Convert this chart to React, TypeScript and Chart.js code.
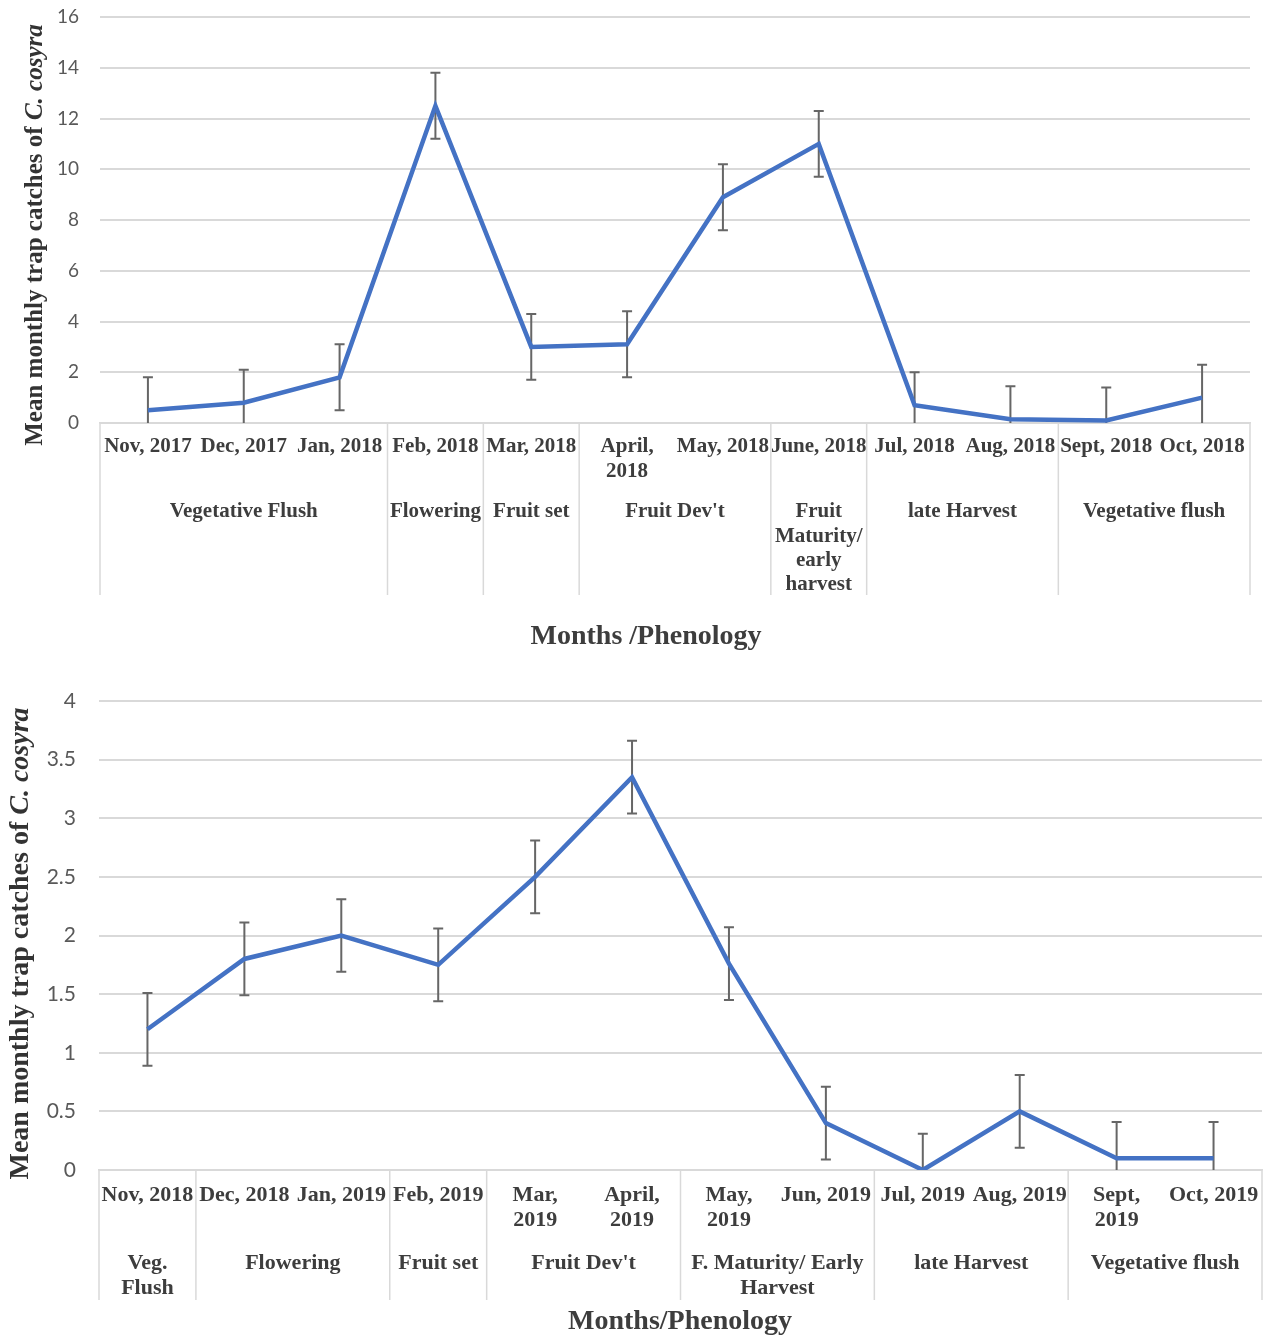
import React, { useEffect, useRef } from "react";
import { Chart, registerables } from "chart.js";

Chart.register(...registerables);

// ---------- Data: 2017-2018 season ----------
const months1 = [
  "Nov, 2017", "Dec, 2017", "Jan, 2018", "Feb, 2018", "Mar, 2018", "April,\n2018",
  "May, 2018", "June, 2018", "Jul, 2018", "Aug, 2018", "Sept, 2018", "Oct, 2018",
];
const catches1 = [0.5, 0.8, 1.8, 12.5, 3.0, 3.1, 8.9, 11.0, 0.7, 0.15, 0.1, 1.0];
const errors1 = [1.3, 1.3, 1.3, 1.3, 1.3, 1.3, 1.3, 1.3, 1.3, 1.3, 1.3, 1.3];
const phases1 = [
  "Vegetative Flush", "Flowering", "Fruit set", "Fruit Dev't",
  "Fruit\nMaturity/\nearly\nharvest", "late Harvest", "Vegetative flush",
];
const phaseSpans1 = [3, 1, 1, 2, 1, 2, 2];

// ---------- Data: 2018-2019 season ----------
const months2 = [
  "Nov, 2018", "Dec, 2018", "Jan, 2019", "Feb, 2019", "Mar,\n2019", "April,\n2019",
  "May,\n2019", "Jun, 2019", "Jul, 2019", "Aug, 2019", "Sept,\n2019", "Oct, 2019",
];
const catches2 = [1.2, 1.8, 2.0, 1.75, 2.5, 3.35, 1.76, 0.4, 0.0, 0.5, 0.1, 0.1];
const errors2 = [0.31, 0.31, 0.31, 0.31, 0.31, 0.31, 0.31, 0.31, 0.31, 0.31, 0.31, 0.31];
const phases2 = [
  "Veg.\nFlush", "Flowering", "Fruit set", "Fruit Dev't",
  "F. Maturity/ Early\nHarvest", "late Harvest", "Vegetative flush",
];
const phaseSpans2 = [1, 2, 1, 2, 2, 2, 2];

const yTitleMain = "Mean monthly trap catches of ";
const yTitleItalic = "C. cosyra";
const xTitle1 = "Months /Phenology";
const xTitle2 = "Months/Phenology";

const SERIF = "'Liberation Serif', 'DejaVu Serif', serif";
const SANS = "Lato, 'Open Sans', sans-serif";
const GRID = "#d9d9d9";
const TEXT = "#3d3d3d";

type Spec = {
  top: number;
  height: number;
  labels: string[];
  values: number[];
  errors: number[];
  phases: string[];
  spans: number[];
  xTitle: string;
  yMax: number;
  yStep: number;
  padTop: number;
  padRight: number;
  yAxisWidth: number;
  xAxisHeight: number;
  yTickSize: number;
  yTickGap: number;
  labelSize: number;
  labelLH: number;
  labelPad: number;
  phaseOffset: number;
  tableHeight: number;
  xTitleSize: number;
  xTitleX: number;
  xTitleY: number;
  yTitleSize: number;
  yTitleX: number;
  yTitleShift: number;
};

function buildChart(canvas: HTMLCanvasElement, s: Spec) {
  const errorBars = {
    id: "errorBars",
    beforeDatasetsDraw(chart: any) {
      const { ctx } = chart;
      const xs = chart.scales.x;
      const ys = chart.scales.y;
      ctx.save();
      ctx.strokeStyle = "#666666";
      ctx.lineWidth = 2;
      const cap = 5;
      s.values.forEach((v, i) => {
        const x = xs.getPixelForValue(i);
        const hi = v + s.errors[i];
        const loRaw = v - s.errors[i];
        const lo = Math.max(0, loRaw);
        const yHi = ys.getPixelForValue(hi);
        const yLo = ys.getPixelForValue(lo);
        ctx.beginPath();
        ctx.moveTo(x, yHi);
        ctx.lineTo(x, yLo);
        ctx.moveTo(x - cap, yHi);
        ctx.lineTo(x + cap, yHi);
        if (loRaw >= 0) {
          ctx.moveTo(x - cap, yLo);
          ctx.lineTo(x + cap, yLo);
        }
        ctx.stroke();
      });
      ctx.restore();
    },
  };

  const decorations = {
    id: "decorations",
    afterDraw(chart: any) {
      const { ctx, chartArea } = chart;
      const xs = chart.scales.x;
      const half = (xs.getPixelForValue(1) - xs.getPixelForValue(0)) / 2;
      ctx.save();
      // phenology table
      ctx.strokeStyle = GRID;
      ctx.lineWidth = 1.5;
      ctx.fillStyle = TEXT;
      ctx.font = `bold ${s.labelSize}px ${SERIF}`;
      ctx.textAlign = "center";
      ctx.textBaseline = "middle";
      const lh = s.labelSize * s.labelLH;
      let idx = 0;
      const y0 = chartArea.bottom;
      const y1 = chartArea.bottom + s.tableHeight;
      s.phases.forEach((p, k) => {
        const left = xs.getPixelForValue(idx) - half;
        const right = xs.getPixelForValue(idx + s.spans[k] - 1) + half;
        ctx.beginPath();
        ctx.moveTo(left, y0);
        ctx.lineTo(left, y1);
        if (k === s.phases.length - 1) {
          ctx.moveTo(right, y0);
          ctx.lineTo(right, y1);
        }
        ctx.stroke();
        const lines = p.split("\n");
        lines.forEach((ln, j) => {
          ctx.fillText(ln, (left + right) / 2, chartArea.bottom + s.phaseOffset + j * lh);
        });
        idx += s.spans[k];
      });
      // x-axis title
      ctx.font = `bold ${s.xTitleSize}px ${SERIF}`;
      ctx.fillStyle = TEXT;
      ctx.fillText(s.xTitle, s.xTitleX, s.xTitleY);
      // y-axis title with italic species name
      const cy = (chartArea.top + chartArea.bottom) / 2 + s.yTitleShift;
      ctx.translate(s.yTitleX, cy);
      ctx.rotate(-Math.PI / 2);
      const fMain = `bold ${s.yTitleSize}px ${SERIF}`;
      const fIt = `italic bold ${s.yTitleSize}px ${SERIF}`;
      ctx.font = fMain;
      const w1 = ctx.measureText(yTitleMain).width;
      ctx.font = fIt;
      const w2 = ctx.measureText(yTitleItalic).width;
      const start = -(w1 + w2) / 2;
      ctx.textAlign = "left";
      ctx.fillStyle = "#333333";
      ctx.font = fMain;
      ctx.fillText(yTitleMain, start, 0);
      ctx.font = fIt;
      ctx.fillText(yTitleItalic, start + w1, 0);
      ctx.restore();
    },
  };

  return new Chart(canvas, {
    type: "line",
    data: {
      labels: s.labels,
      datasets: [
        {
          data: s.values,
          borderColor: "#4472C4",
          borderWidth: 4.5,
          pointRadius: 0,
          tension: 0,
          fill: false,
        },
      ],
    },
    options: {
      responsive: false,
      animation: false,
      devicePixelRatio: 1,
      layout: { padding: { top: s.padTop, right: s.padRight, left: 0, bottom: 0 } },
      plugins: { legend: { display: false }, tooltip: { enabled: false } },
      scales: {
        x: {
          type: "category",
          offset: true,
          grid: { display: false, drawTicks: true, tickLength: s.labelPad, tickColor: "rgba(0,0,0,0)" },
          border: { display: true, color: GRID, width: 1.5 },
          ticks: {
            autoSkip: false,
            maxRotation: 0,
            minRotation: 0,
            padding: 0,
            color: TEXT,
            font: { family: SERIF, size: s.labelSize, weight: "bold", lineHeight: s.labelLH },
            callback: (_v: any, i: number) => s.labels[i].split("\n"),
          },
          afterFit: (sc: any) => {
            sc.height = s.xAxisHeight;
          },
        },
        y: {
          min: 0,
          max: s.yMax,
          grid: {
            color: GRID,
            lineWidth: 2,
            drawTicks: true,
            tickLength: s.yTickGap,
            tickColor: "rgba(0,0,0,0)",
          },
          border: { display: false },
          ticks: {
            stepSize: s.yStep,
            padding: 0,
            color: "#595959",
            font: { family: SANS, size: s.yTickSize },
            callback: (v: any) => String(v),
          },
          afterFit: (sc: any) => {
            sc.width = s.yAxisWidth;
          },
        },
      },
    } as any,
    plugins: [errorBars, decorations],
  });
}

const spec1: Spec = {
  top: 0,
  height: 660,
  labels: months1,
  values: catches1,
  errors: errors1,
  phases: phases1,
  spans: phaseSpans1,
  xTitle: xTitle1,
  yMax: 16,
  yStep: 2,
  padTop: 17,
  padRight: 16,
  yAxisWidth: 100,
  xAxisHeight: 237,
  yTickSize: 19,
  yTickGap: 21,
  labelSize: 21,
  labelLH: 1.15,
  labelPad: 12,
  phaseOffset: 89,
  tableHeight: 172,
  xTitleSize: 28,
  xTitleX: 646,
  xTitleY: 637,
  yTitleSize: 25,
  yTitleX: 36,
  yTitleShift: 15,
};

const spec2: Spec = {
  top: 660,
  height: 679,
  labels: months2,
  values: catches2,
  errors: errors2,
  phases: phases2,
  spans: phaseSpans2,
  xTitle: xTitle2,
  yMax: 4,
  yStep: 0.5,
  padTop: 41,
  padRight: 4,
  yAxisWidth: 99,
  xAxisHeight: 169,
  yTickSize: 21,
  yTickGap: 23,
  labelSize: 22,
  labelLH: 1.14,
  labelPad: 13,
  phaseOffset: 93,
  tableHeight: 130,
  xTitleSize: 28,
  xTitleX: 680,
  xTitleY: 662,
  yTitleSize: 28,
  yTitleX: 21,
  yTitleShift: 8,
};

function ChartCanvas({ spec }: { spec: Spec }) {
  const ref = useRef<HTMLCanvasElement>(null);
  useEffect(() => {
    if (!ref.current) return;
    const c = buildChart(ref.current, spec);
    return () => c.destroy();
  }, [spec]);
  return (
    <canvas
      ref={ref}
      width={1266}
      height={spec.height}
      style={{ position: "absolute", left: 0, top: spec.top, width: 1266, height: spec.height, display: "block" }}
    />
  );
}

export default function App() {
  return (
    <div style={{ position: "absolute", left: 0, top: 0, width: 1266, height: 1339, background: "#ffffff" }}>
      <ChartCanvas spec={spec1} />
      <ChartCanvas spec={spec2} />
    </div>
  );
}
